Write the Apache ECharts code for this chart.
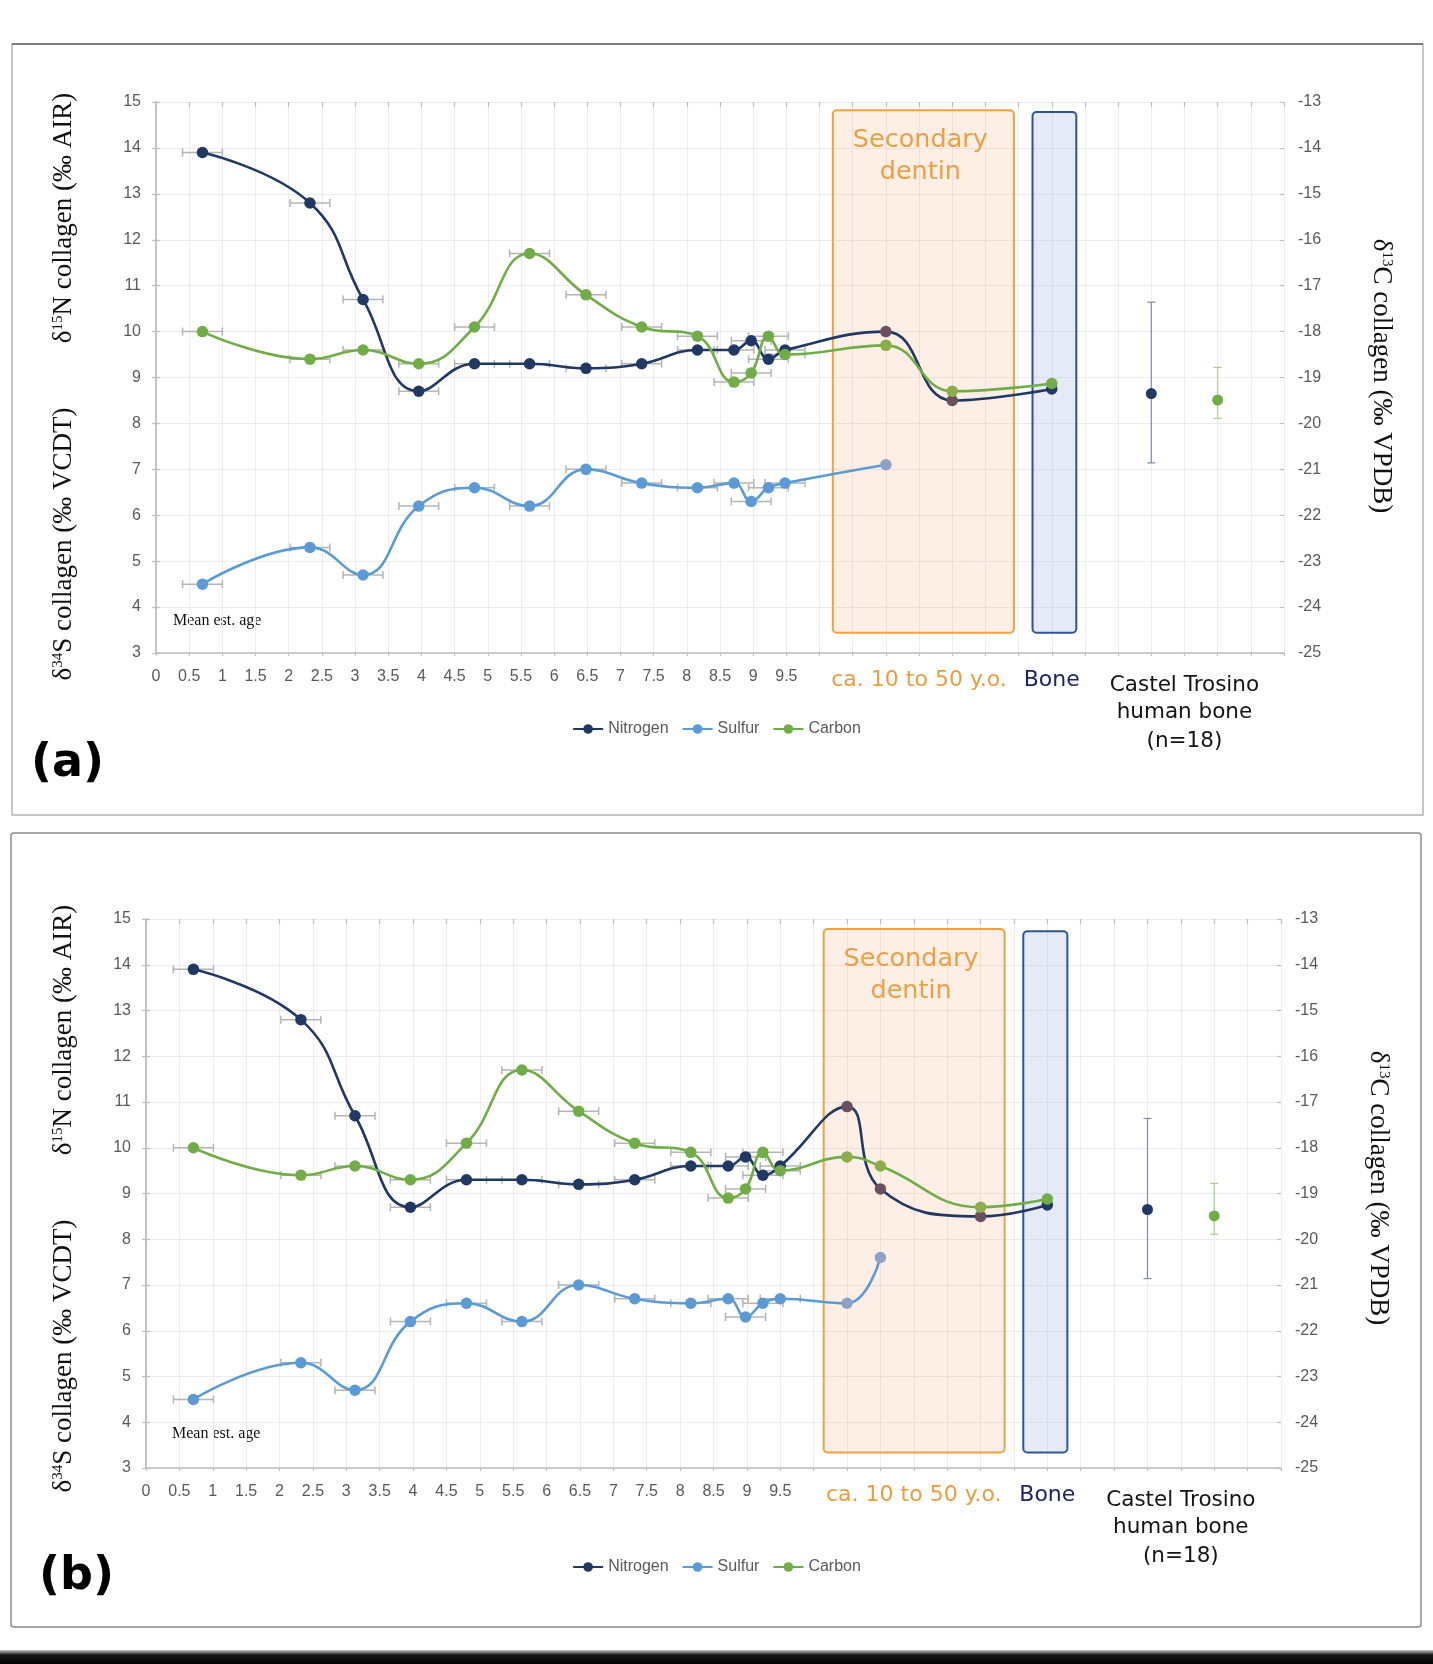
<!DOCTYPE html>
<html>
<head>
<meta charset="utf-8">
<script src="https://cdn.jsdelivr.net/npm/echarts@6/dist/echarts.min.js"></script>
<style>
  html, body { margin: 0; padding: 0; background: #fff; }
  #chart { width: 1433px; height: 1664px; }
</style>
</head>
<body>
<div id="chart"></div>
<script>
// ---------------- DATA ----------------
// Panel (a)
const ageA = [0.70, 2.32, 3.12, 3.96, 4.80, 5.63, 6.48, 7.32, 8.16, 8.71, 8.97, 9.23, 9.48];
const ageErrA = [0.3, 0.3, 0.3, 0.3, 0.3, 0.3, 0.3, 0.3, 0.3, 0.3, 0.3, 0.3, 0.3];
const laterNCA = [11.0, 12.0, 13.5];          // dentin / bone samples (N, C)
const laterSA = [11.0];                        // dentin sample (S)
const nitrogenA = [13.9, 12.8, 10.7, 8.7, 9.3, 9.3, 9.2, 9.3, 9.6, 9.6, 9.8, 9.4, 9.6, 10.0, 8.5, 8.75];
const sulfurA = [4.5, 5.3, 4.7, 6.2, 6.6, 6.2, 7.0, 6.7, 6.6, 6.7, 6.3, 6.6, 6.7, 7.1];
const carbonA = [-18.0, -18.6, -18.4, -18.7, -17.9, -16.3, -17.2, -17.9, -18.1, -19.1, -18.9, -18.1, -18.5, -18.3, -19.3, -19.13];
const dentinBoxA = [10.2, 12.93, 3.44, 14.82];
const boneBoxA = [13.21, 13.87, 3.44, 14.78];

// Panel (b)
const ageB = [0.71, 2.32, 3.13, 3.96, 4.80, 5.63, 6.48, 7.32, 8.16, 8.72, 8.98, 9.24, 9.50];
const ageErrB = [0.3, 0.3, 0.3, 0.3, 0.3, 0.3, 0.3, 0.3, 0.3, 0.3, 0.3, 0.3, 0.3];
const laterNCB = [10.5, 11.0, 12.5, 13.5];
const laterSB = [10.5, 11.0];
const nitrogenB = [13.9, 12.8, 10.7, 8.7, 9.3, 9.3, 9.2, 9.3, 9.6, 9.6, 9.8, 9.4, 9.6, 10.9, 9.1, 8.5, 8.75];
const sulfurB = [4.5, 5.3, 4.7, 6.2, 6.6, 6.2, 7.0, 6.7, 6.6, 6.7, 6.3, 6.6, 6.7, 6.6, 7.6];
const carbonB = [-18.0, -18.6, -18.4, -18.7, -17.9, -16.3, -17.2, -17.9, -18.1, -19.1, -18.9, -18.1, -18.5, -18.2, -18.4, -19.3, -19.12];
const dentinBoxB = [10.15, 12.86, 3.34, 14.78];
const boneBoxB = [13.14, 13.80, 3.34, 14.73];

// Castel Trosino human bone (n=18): [x, mean, low, high]
const castelN = [15.0, 8.65, 7.14, 10.64];
const castelC = [16.0, -19.49, -19.89, -18.78];

// Axis ticks / labels
const leftTicks = [3, 15, 1];
const rightTicks = [-25, -13, 1];
const xTicks = [0, 17, 0.5];
const groupLabelAt = [11.5, 13.5, 15.5];
const groupLabelText = ['{o|ca. 10 to 50 y.o.}', '{b|Bone}', '{c1|Castel Trosino}\n{c|human bone}\n{c|(n=18)}'];
const legendNames = ['Nitrogen', 'Sulfur', 'Carbon'];

// ---------------- STYLE ----------------
const C_N = '#203864', C_S = '#5b9bd5', C_C = '#70ad47';
const C_N_in = '#6b4f5e', C_S_in = '#8fa1c6', C_C_in = '#8dac4b';
const NUM_FONT = '"Liberation Sans Narrow", "Liberation Sans", sans-serif';
const SERIF = '"Liberation Serif", "DejaVu Serif", serif';
const VERD = '"DejaVu Sans", sans-serif';

function zip(xs, ys) { return xs.map((x, i) => [x, ys[i]]); }

const panels = [
  { age: ageA, err: ageErrA, lNC: laterNCA, lS: laterSA, N: nitrogenA, S: sulfurA, C: carbonA,
    dentin: dentinBoxA, bone: boneBoxA,
    grid: { left: 156, top: 102, width: 1128, height: 551 } },
  { age: ageB, err: ageErrB, lNC: laterNCB, lS: laterSB, N: nitrogenB, S: sulfurB, C: carbonB,
    dentin: dentinBoxB, bone: boneBoxB,
    grid: { left: 146, top: 919, width: 1135, height: 549 } }
];

const grids = [], xAxes = [], yAxes = [], series = [], visualMaps = [], legends = [];

function xLabelFmt(v) {
  const i = groupLabelAt.indexOf(v);
  if (i >= 0) return groupLabelText[i];
  if (v < 10) return '{n|' + v + '}';
  return '';
}

function hErrRender(color) {
  return function (params, api) {
    const x = api.value(0), y = api.value(1), e = api.value(2);
    const p0 = api.coord([x - e, y]), p1 = api.coord([x + e, y]);
    const h = 4, st = { stroke: color, lineWidth: 1.5 };
    return { type: 'group', children: [
      { type: 'line', shape: { x1: p0[0], y1: p0[1], x2: p1[0], y2: p1[1] }, style: st },
      { type: 'line', shape: { x1: p0[0], y1: p0[1] - h, x2: p0[0], y2: p0[1] + h }, style: st },
      { type: 'line', shape: { x1: p1[0], y1: p1[1] - h, x2: p1[0], y2: p1[1] + h }, style: st }
    ]};
  };
}
function vErrRender(color, dot) {
  return function (params, api) {
    const x = api.value(0), m = api.value(1), lo = api.value(2), hi = api.value(3);
    const pm = api.coord([x, m]), pl = api.coord([x, lo]), ph = api.coord([x, hi]);
    const w = 4, st = { stroke: color, lineWidth: 1.2 };
    return { type: 'group', children: [
      { type: 'line', shape: { x1: pl[0], y1: pl[1], x2: ph[0], y2: ph[1] }, style: st },
      { type: 'line', shape: { x1: pl[0] - w, y1: pl[1], x2: pl[0] + w, y2: pl[1] }, style: st },
      { type: 'line', shape: { x1: ph[0] - w, y1: ph[1], x2: ph[0] + w, y2: ph[1] }, style: st },
      { type: 'circle', shape: { cx: pm[0], cy: pm[1], r: 5.5 }, style: { fill: dot } }
    ]};
  };
}
function boxRender(params, api) {
  const x0 = api.value(0), x1 = api.value(1), y0 = api.value(2), y1 = api.value(3), kind = api.value(4);
  const a = api.coord([x0, y1]), b = api.coord([x1, y0]);
  const children = [];
  if (kind === 0) {
    children.push({ type: 'rect', shape: { x: a[0], y: a[1], width: b[0] - a[0], height: b[1] - a[1], r: 4 },
      style: { fill: 'rgba(245,175,125,0.2)', stroke: '#efa23f', lineWidth: 2 } });
    children.push({ type: 'text', x: (a[0] + b[0]) / 2 - 3, y: a[1] + 14,
      style: { text: 'Secondary\ndentin', fill: '#eba045', font: '25.5px ' + VERD, align: 'center',
               verticalAlign: 'top', lineHeight: 32 } });
  } else {
    children.push({ type: 'rect', shape: { x: a[0], y: a[1], width: b[0] - a[0], height: b[1] - a[1], r: 4 },
      style: { fill: 'rgba(175,190,228,0.32)', stroke: '#2f5597', lineWidth: 2 } });
  }
  return { type: 'group', children };
}

function tintMap(seriesIndex, box, base, tint) {
  return { type: 'piecewise', show: false, seriesIndex, dimension: 0,
    pieces: [ { lt: box[0], color: base }, { gte: box[0], lte: box[1], color: tint }, { gt: box[1], color: base } ] };
}

panels.forEach((p, g) => {
  grids.push(p.grid);
  const xi = xAxes.length;
  xAxes.push({
    type: 'value', gridIndex: g, min: xTicks[0], max: xTicks[1], interval: xTicks[2],
    axisLine: { lineStyle: { color: '#bfbfbf', width: 1.5 } },
    axisTick: { length: 3, lineStyle: { color: '#bfbfbf', width: 1.2 } },
    splitLine: { show: true, lineStyle: { color: '#ececec', width: 1 } },
    axisLabel: { margin: 15, formatter: xLabelFmt,
      rich: {
        n: { fontSize: 16, color: '#595959', fontFamily: NUM_FONT, lineHeight: 17 },
        o: { fontSize: 22, color: '#ed9b3f', fontFamily: VERD, lineHeight: 25 },
        b: { fontSize: 22, color: '#1e2266', fontFamily: VERD, lineHeight: 25 },
        c1: { fontSize: 21.5, color: '#141414', fontFamily: VERD, height: 30, lineHeight: 30, padding: [5, 0, 0, 0] },
        c: { fontSize: 21.5, color: '#141414', fontFamily: VERD, height: 29, lineHeight: 29 }
      } }
  });
  xAxes.push({
    type: 'value', gridIndex: g, min: xTicks[0], max: xTicks[1], interval: xTicks[2],
    axisLine: { show: false }, splitLine: { show: false }, axisLabel: { show: false },
    axisTick: { inside: true, length: 5, lineStyle: { color: '#bfbfbf', width: 1.2 } }
  });
  const yL = yAxes.length, yR = yL + 1;
  yAxes.push({
    type: 'value', gridIndex: g, position: 'left', min: leftTicks[0], max: leftTicks[1], interval: leftTicks[2],
    axisLine: { show: true, lineStyle: { color: '#bfbfbf', width: 1.5 } },
    axisTick: { show: true, length: 4, lineStyle: { color: '#bfbfbf', width: 1.2 } },
    splitLine: { show: true, lineStyle: { color: '#ececec', width: 1 } },
    axisLabel: { margin: 15, color: '#595959', fontSize: 16, fontFamily: NUM_FONT }
  });
  yAxes.push({
    type: 'value', gridIndex: g, position: 'right', min: rightTicks[0], max: rightTicks[1], interval: rightTicks[2],
    axisLine: { show: true, lineStyle: { color: '#bfbfbf', width: 1.5 } },
    axisTick: { show: true, length: 4, lineStyle: { color: '#bfbfbf', width: 1.2 } },
    splitLine: { show: false },
    axisLabel: { margin: 14, color: '#595959', fontSize: 16, fontFamily: NUM_FONT }
  });
  yAxes.push({
    type: 'value', gridIndex: g, position: 'left', min: leftTicks[0], max: leftTicks[1], interval: leftTicks[2],
    axisLine: { show: false }, splitLine: { show: false }, axisLabel: { show: false },
    axisTick: { show: true, inside: true, length: 4, lineStyle: { color: '#bfbfbf', width: 1.2 } }
  });
  yAxes.push({
    type: 'value', gridIndex: g, position: 'right', min: rightTicks[0], max: rightTicks[1], interval: rightTicks[2],
    axisLine: { show: false }, splitLine: { show: false }, axisLabel: { show: false },
    axisTick: { show: true, inside: true, length: 4, lineStyle: { color: '#bfbfbf', width: 1.2 } }
  });

  // boxes (annotation regions)
  series.push({ type: 'custom', name: 'regions' + g, xAxisIndex: xi, yAxisIndex: yL, z: 1, silent: true,
    renderItem: boxRender, clip: false,
    data: [ p.dentin.concat([0]), p.bone.concat([1]) ] });

  // horizontal age error bars
  const nT = p.age.length;
  const errData = (vals) => p.age.map((x, i) => [x, vals[i], p.err[i]]);
  series.push({ type: 'custom', name: 'errN' + g, xAxisIndex: xi, yAxisIndex: yL, z: 2, silent: true,
    renderItem: hErrRender('#b5b5b5'), data: errData(p.N.slice(0, nT)) });
  series.push({ type: 'custom', name: 'errS' + g, xAxisIndex: xi, yAxisIndex: yL, z: 2, silent: true,
    renderItem: hErrRender('#b5b5b5'), data: errData(p.S.slice(0, nT)) });
  series.push({ type: 'custom', name: 'errC' + g, xAxisIndex: xi, yAxisIndex: yR, z: 2, silent: true,
    renderItem: hErrRender('#b5b5b5'), data: errData(p.C.slice(0, nT)) });

  const lineCommon = { type: 'line', smooth: 0.45, symbol: 'circle', symbolSize: 11.5, z: 3, xAxisIndex: xi };
  const iN = series.length;
  series.push(Object.assign({}, lineCommon, { name: 'Nitrogen', yAxisIndex: yL,
    data: zip(p.age.concat(p.lNC), p.N), lineStyle: { color: C_N, width: 2.6 }, itemStyle: { color: C_N } }));
  const iS = series.length;
  series.push(Object.assign({}, lineCommon, { name: 'Sulfur', yAxisIndex: yL,
    data: zip(p.age.concat(p.lS), p.S), lineStyle: { color: C_S, width: 2.6 }, itemStyle: { color: C_S } }));
  const iC = series.length;
  series.push(Object.assign({}, lineCommon, { name: 'Carbon', yAxisIndex: yR,
    data: zip(p.age.concat(p.lNC), p.C), lineStyle: { color: C_C, width: 2.6 }, itemStyle: { color: C_C } }));
  visualMaps.push(tintMap(iN, p.dentin, C_N, C_N_in));
  visualMaps.push(tintMap(iS, p.dentin, C_S, C_S_in));
  visualMaps.push(tintMap(iC, p.dentin, C_C, C_C_in));

  // Castel Trosino reference (mean with range bar)
  series.push({ type: 'custom', name: 'castelN' + g, xAxisIndex: xi, yAxisIndex: yL, z: 3, silent: true,
    renderItem: vErrRender('#7d8ba6', C_N), data: [castelN] });
  series.push({ type: 'custom', name: 'castelC' + g, xAxisIndex: xi, yAxisIndex: yR, z: 3, silent: true,
    renderItem: vErrRender('#a8cf8c', C_C), data: [castelC] });

  legends.push({ data: legendNames, left: 'center', top: g === 0 ? 716 : 1554, itemWidth: 30, itemHeight: 12,
    itemGap: 13, textStyle: { color: '#595959', fontSize: 16, fontFamily: NUM_FONT }, selectedMode: false });
});

// ---------------- GRAPHIC DECOR ----------------
function vTitle(x, y, text, rot) {
  return { type: 'text', x, y, rotation: rot, silent: true,
    style: { text, align: 'center', verticalAlign: 'middle', fill: '#111',
      font: '27px ' + SERIF,
      rich: { m: { fontSize: 27, fontFamily: SERIF, fill: '#111', verticalAlign: 'bottom' },
              s: { fontSize: 15, fontFamily: SERIF, fill: '#111', verticalAlign: 'top' } } } };
}
const graphics = [
  { type: 'rect', silent: true, shape: { x: 12, y: 44, width: 1411, height: 771 },
    style: { fill: 'none', stroke: '#b4b4b4', lineWidth: 1.5 } },
  { type: 'line', silent: true, shape: { x1: 12, y1: 44, x2: 1423, y2: 44 }, style: { stroke: '#7a7a7a', lineWidth: 2 } },
  { type: 'rect', silent: true, shape: { x: 11, y: 833, width: 1410, height: 794, r: 3 },
    style: { fill: 'none', stroke: '#8a8a8a', lineWidth: 1.5 } },
  { type: 'rect', silent: true, shape: { x: 0, y: 1650, width: 1433, height: 14 },
    style: { fill: new echarts.graphic.LinearGradient(0, 0, 0, 1, [
      { offset: 0, color: '#c8c8c8' }, { offset: 0.35, color: '#1a1a1a' }, { offset: 1, color: '#000' }]) } },
  vTitle(64, 218, '{m|δ}{s|15}{m|N collagen (‰ AIR)}', Math.PI / 2),
  vTitle(64, 544, '{m|δ}{s|34}{m|S collagen (‰ VCDT)}', Math.PI / 2),
  vTitle(1381, 376, '{m|δ}{s|13}{m|C collagen (‰ VPDB)}', -Math.PI / 2),
  vTitle(64, 1030, '{m|δ}{s|15}{m|N collagen (‰ AIR)}', Math.PI / 2),
  vTitle(64, 1356, '{m|δ}{s|34}{m|S collagen (‰ VCDT)}', Math.PI / 2),
  vTitle(1378, 1188, '{m|δ}{s|13}{m|C collagen (‰ VPDB)}', -Math.PI / 2),
  { type: 'text', x: 173, y: 621, silent: true,
    style: { text: 'Mean est. age', font: '16px ' + SERIF, fill: '#111', verticalAlign: 'middle' } },
  { type: 'text', x: 172, y: 1434, silent: true,
    style: { text: 'Mean est. age', font: '16px ' + SERIF, fill: '#111', verticalAlign: 'middle' } },
  { type: 'text', x: 31, y: 764, silent: true,
    style: { text: '(a)', font: 'bold 46px ' + VERD, fill: '#000', verticalAlign: 'middle' } },
  { type: 'text', x: 39, y: 1577, silent: true,
    style: { text: '(b)', font: 'bold 46px ' + VERD, fill: '#000', verticalAlign: 'middle' } }
];

const chart = echarts.init(document.getElementById('chart'), null, { renderer: 'canvas' });
chart.setOption({
  backgroundColor: '#ffffff',
  animation: false,
  grid: grids,
  xAxis: xAxes,
  yAxis: yAxes,
  visualMap: visualMaps,
  legend: legends,
  series: series,
  graphic: graphics
});
</script>
</body>
</html>
